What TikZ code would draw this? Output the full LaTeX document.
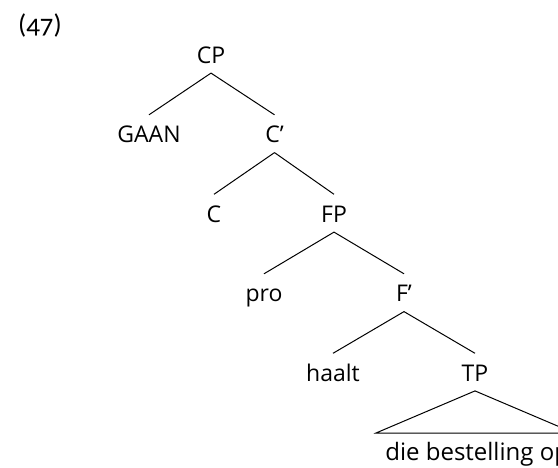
\documentclass[tikz,border=0pt]{standalone}
\usepackage{fontspec}
\setmainfont{Open Sans}
\newfontfamily\exfont[Numbers=OldStyle]{Carlito}
\newcommand{\br}[2]{\draw[branch] ([yshift=-4.85pt]#1.south) -- ([yshift=5.65pt]#2.north);}
\begin{document}
\begin{tikzpicture}[x=0.5pt,y=-0.5pt,
  lbl/.style={font=\fontsize{11.5}{13}\selectfont, text height=8pt, text depth=0pt, inner ysep=0pt, inner xsep=0pt},
  branch/.style={line width=0.5pt},
  tri/.style={line width=0.5pt}]
\useasboundingbox (0,0) rectangle (558,467);
\clip (0,0) rectangle (558,467);
\node[font=\exfont\fontsize{13.5}{15}\selectfont, inner sep=0pt] (ex) at (40,25) {(47)};
\node[lbl] (CP) at (211,55) {CP};
\node[lbl] (GAAN) at (149,134.5) {GAAN};
\node[lbl] (Cbar) at (274.5,134.5) {C’};
\node[lbl] (C) at (214,214) {C};
\node[lbl] (FP) at (334,214) {FP};
\node[lbl] (pro) at (264,293.5) {pro};
\node[lbl] (Fbar) at (404,293.5) {F’};
\node[lbl] (haalt) at (333,373) {haalt};
\node[lbl] (TP) at (475,373) {TP};
\br{CP}{GAAN}
\br{CP}{Cbar}
\br{Cbar}{C}
\br{Cbar}{FP}
\br{FP}{pro}
\br{FP}{Fbar}
\br{Fbar}{haalt}
\br{Fbar}{TP}
\coordinate (apex) at ([yshift=-4.75pt]TP.south);
\coordinate (tl) at (376,433);
\coordinate (tr) at (574,433);
\draw[tri] (apex) -- (tl) -- (tr) -- cycle;
\node[font=\fontsize{12}{14}\selectfont, anchor=base west, inner sep=0pt] (yield) at (385,460) {die bestelling op};
\end{tikzpicture}
\end{document}
